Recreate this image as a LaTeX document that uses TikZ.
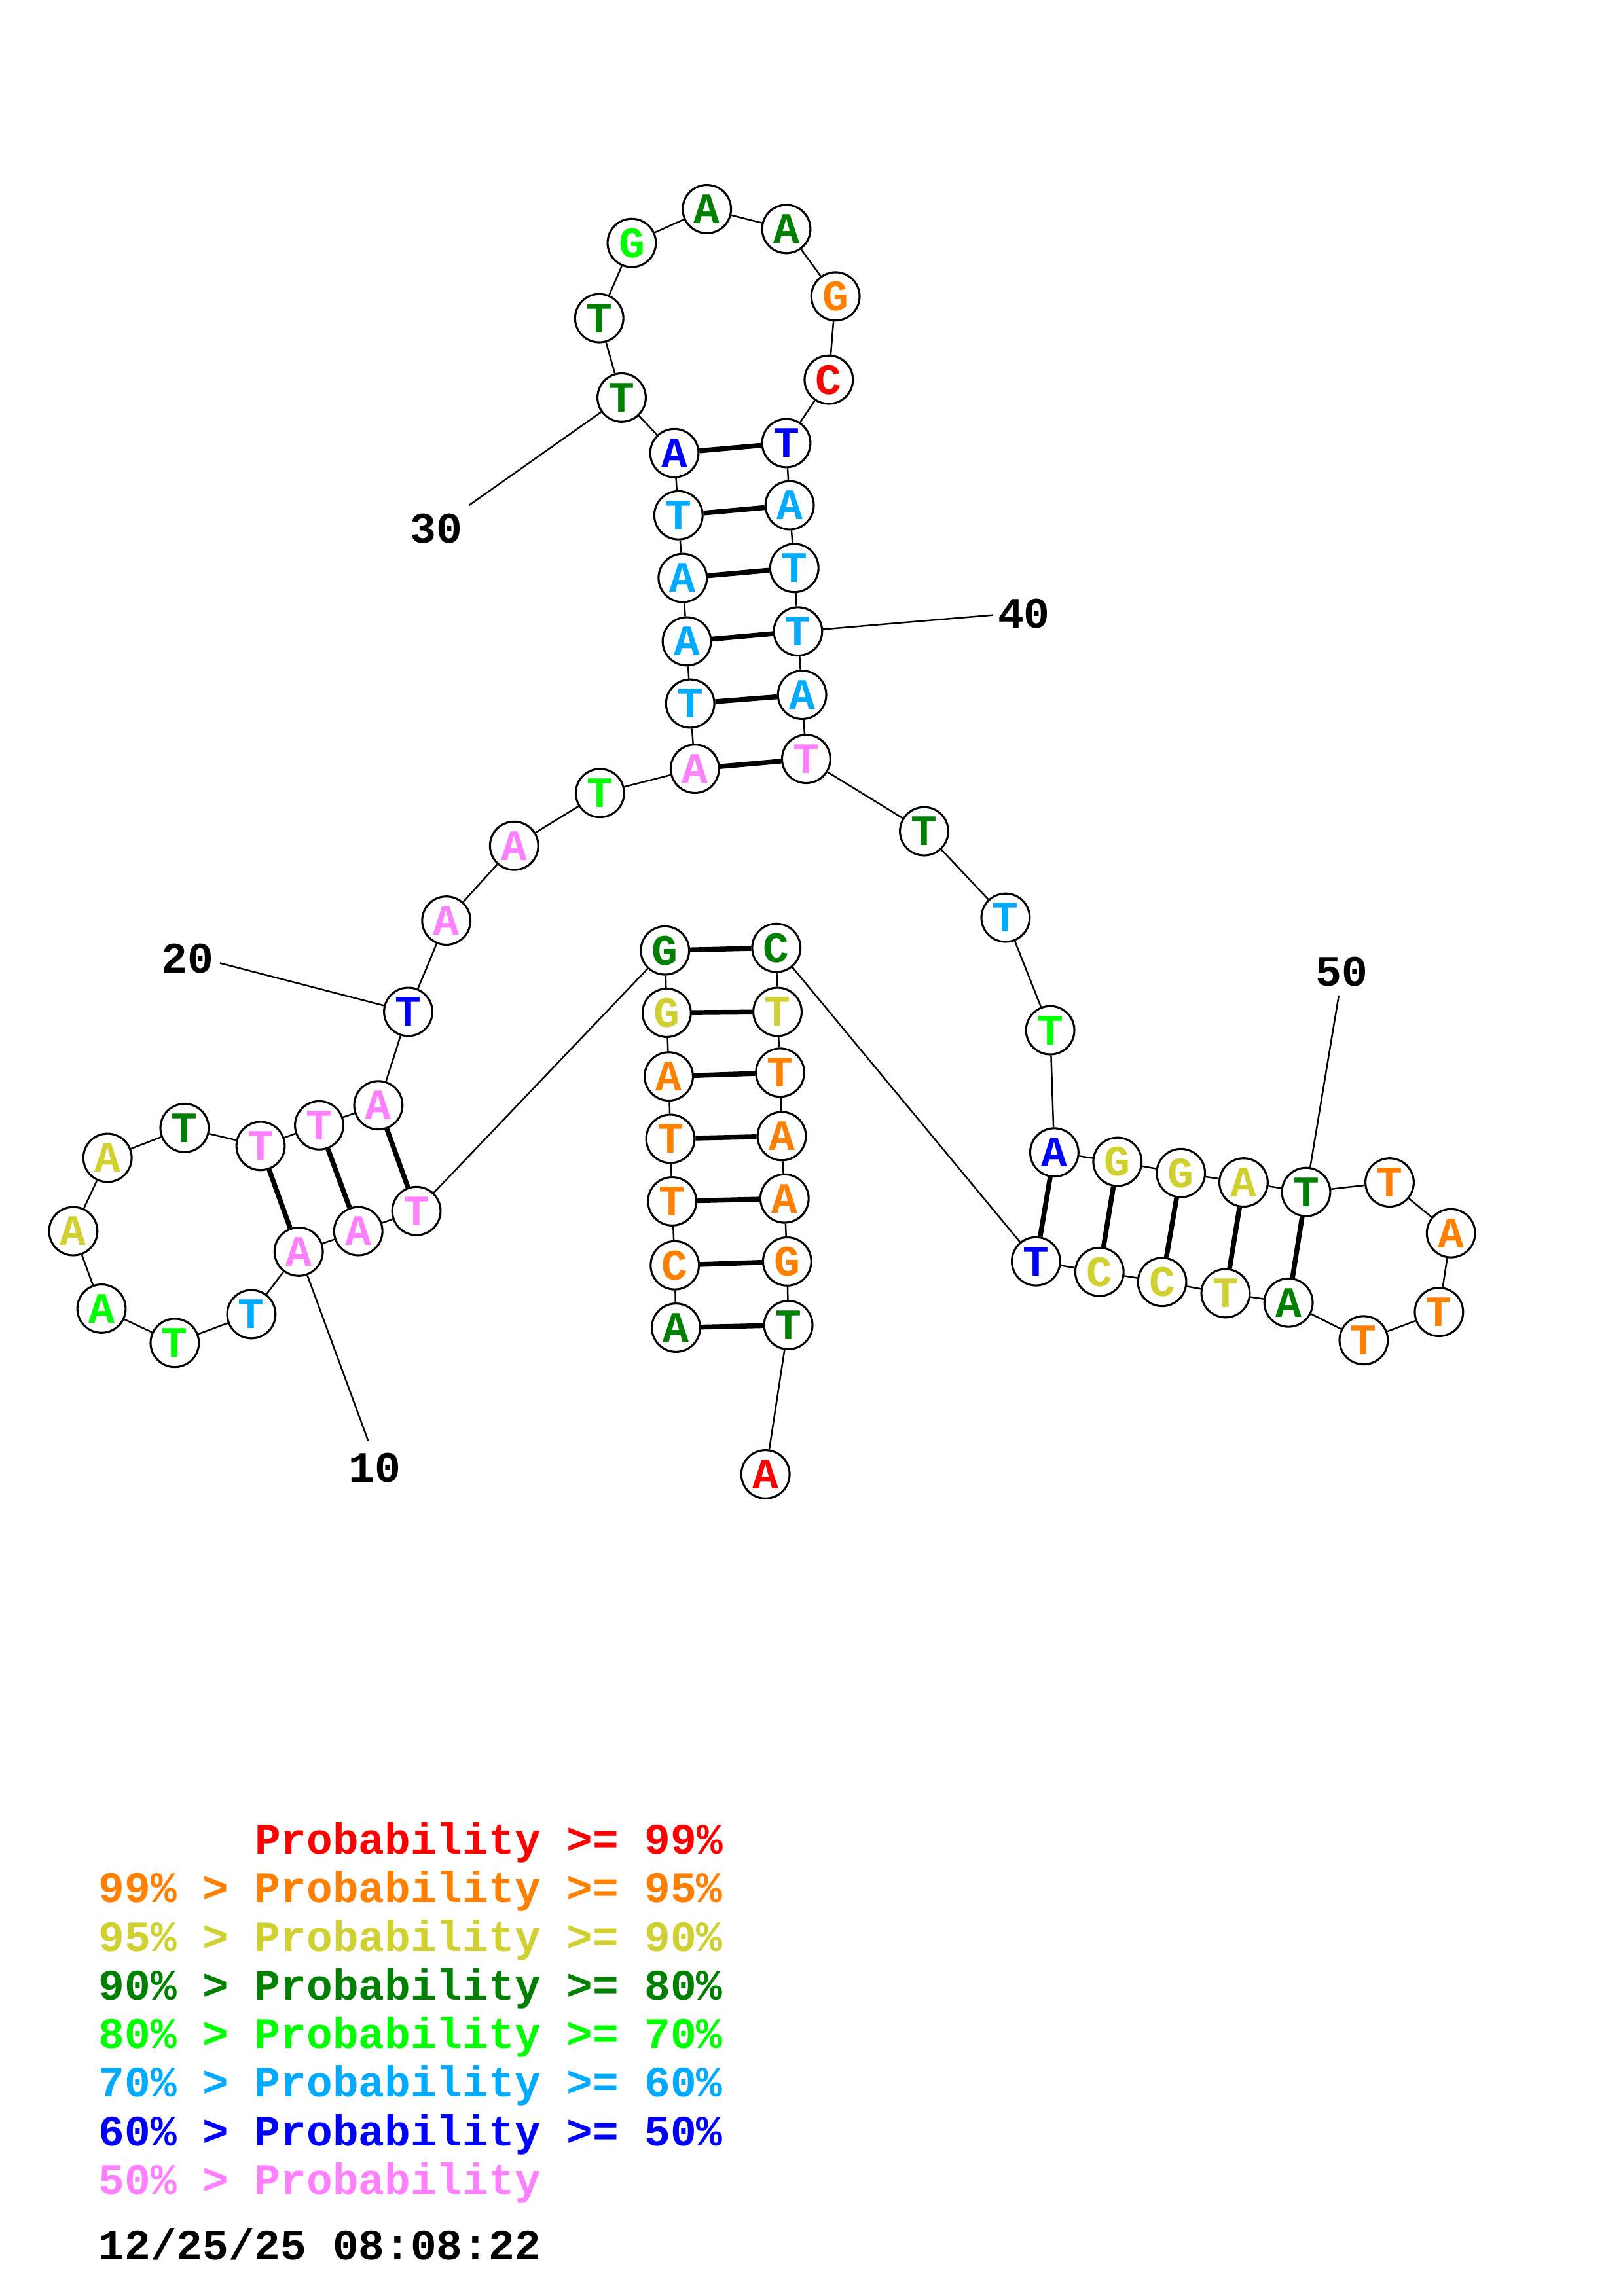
\documentclass[tikz,border=0pt]{standalone}
\usepackage{fontspec}
\setmonofont{Liberation Mono}
\definecolor{pa}{RGB}{255,0,0}
\definecolor{pb}{RGB}{255,128,0}
\definecolor{pc}{RGB}{208,208,48}
\definecolor{pd}{RGB}{0,128,0}
\definecolor{pe}{RGB}{0,255,0}
\definecolor{pf}{RGB}{0,170,255}
\definecolor{pg}{RGB}{0,0,255}
\definecolor{ph}{RGB}{255,128,255}
\newcommand{\basefont}{\ttfamily\bfseries\fontsize{16}{18}\selectfont}
\newcommand{\legfont}{\ttfamily\bfseries\fontsize{15.95}{18}\selectfont}
\begin{document}
\begin{tikzpicture}[x=0.018953cm,y=-0.018953cm,
      nt/.style={circle,draw,line width=0.75pt,minimum size=6.25mm,
        inner sep=0pt,fill=white,text=#1,font=\basefont},
      bb/.style={line width=0.6pt},
      bp/.style={line width=1.8pt},
      num/.style={font=\basefont,inner sep=0pt},
      leg/.style={font=\legfont,inner sep=0pt,anchor=base west}]
      \useasboundingbox (0,0) rectangle (1108,1568);
      \node[nt=pd] (n1) at (461.5,906.7) {A};
      \node[nt=pb] (n2) at (460.7,864.1) {C};
      \node[nt=pb] (n3) at (458.9,820.4) {T};
      \node[nt=pb] (n4) at (457.7,777.7) {T};
      \node[nt=pb] (n5) at (456.6,735.1) {A};
      \node[nt=pc] (n6) at (455.2,691.7) {G};
      \node[nt=pd] (n7) at (454,649.1) {G};
      \node[nt=ph] (n8) at (284.3,827) {T};
      \node[nt=ph] (n9) at (244.6,840.8) {A};
      \node[nt=ph] (n10) at (203.9,854.8) {A};
      \node[nt=pf] (n11) at (171.6,897.5) {T};
      \node[nt=pe] (n12) at (119.3,917.1) {T};
      \node[nt=pe] (n13) at (69.3,893.7) {A};
      \node[nt=pc] (n14) at (50,840.8) {A};
      \node[nt=pc] (n15) at (73.4,790.7) {A};
      \node[nt=pd] (n16) at (126,770.3) {T};
      \node[nt=ph] (n17) at (177.9,782.6) {T};
      \node[nt=ph] (n18) at (217.9,768.5) {T};
      \node[nt=ph] (n19) at (258.3,754.8) {A};
      \node[nt=pg] (n20) at (278.7,691) {T};
      \node[nt=ph] (n21) at (304.7,628.7) {A};
      \node[nt=ph] (n22) at (351,577.6) {A};
      \node[nt=pe] (n23) at (409.6,541.6) {T};
      \node[nt=ph] (n24) at (474.4,525) {A};
      \node[nt=pf] (n25) at (471.2,480.5) {T};
      \node[nt=pf] (n26) at (468.9,438) {A};
      \node[nt=pf] (n27) at (466.1,394.7) {A};
      \node[nt=pf] (n28) at (463.2,351.9) {T};
      \node[nt=pg] (n29) at (460.4,309.4) {A};
      \node[nt=pd] (n30) at (424.4,271.5) {T};
      \node[nt=pd] (n31) at (409.1,217.3) {T};
      \node[nt=pe] (n32) at (431.3,165.9) {G};
      \node[nt=pd] (n33) at (482.6,142.8) {A};
      \node[nt=pd] (n34) at (536.8,156.4) {A};
      \node[nt=pb] (n35) at (570.4,202.4) {G};
      \node[nt=pa] (n36) at (565.8,259.3) {C};
      \node[nt=pg] (n37) at (536.8,302.6) {T};
      \node[nt=pf] (n38) at (539.1,345.1) {A};
      \node[nt=pf] (n39) at (542.3,387.9) {T};
      \node[nt=pf] (n40) at (544.8,431.2) {T};
      \node[nt=pf] (n41) at (547.6,474.5) {A};
      \node[nt=ph] (n42) at (550.4,518.3) {T};
      \node[nt=pd] (n43) at (630.9,567.7) {T};
      \node[nt=pf] (n44) at (686.5,626.7) {T};
      \node[nt=pe] (n45) at (717,703.6) {T};
      \node[nt=pg] (n46) at (719.8,787) {A};
      \node[nt=pc] (n47) at (762.9,793.4) {G};
      \node[nt=pc] (n48) at (806.2,801.1) {G};
      \node[nt=pc] (n49) at (849,807.5) {A};
      \node[nt=pd] (n50) at (891.7,814) {T};
      \node[nt=pb] (n51) at (948.7,807.5) {T};
      \node[nt=pb] (n52) at (990.6,842.2) {A};
      \node[nt=pb] (n53) at (982.4,896) {T};
      \node[nt=pb] (n54) at (931,915.3) {T};
      \node[nt=pd] (n55) at (879.7,889.6) {A};
      \node[nt=pc] (n56) at (836.7,883.2) {T};
      \node[nt=pc] (n57) at (793.4,875.5) {C};
      \node[nt=pc] (n58) at (750.6,868.6) {C};
      \node[nt=pg] (n59) at (707.3,861.4) {T};
      \node[nt=pd] (n60) at (530,647.3) {C};
      \node[nt=pc] (n61) at (530.8,691) {T};
      \node[nt=pb] (n62) at (532.6,732.5) {T};
      \node[nt=pb] (n63) at (533.7,775.9) {A};
      \node[nt=pb] (n64) at (535.6,818.5) {A};
      \node[nt=pb] (n65) at (537.4,861.5) {G};
      \node[nt=pd] (n66) at (538.2,904.9) {T};
      \node[nt=pa] (n67) at (522.6,1006.8) {A};
      \foreach \i [count=\j from 2] in {1,...,66}
        \draw[bb] (n\i) -- (n\j);
      \foreach \a/\b in {1/66,2/65,3/64,4/63,5/62,6/61,7/60,8/19,9/18,10/17,
          24/42,25/41,26/40,27/39,28/38,29/37,46/59,47/58,48/57,49/56,50/55}
        \draw[bp] (n\a) -- (n\b);
      \node[num] (t10) at (255.7,1002.4) {10};
      \node[num] (t20) at (127.9,654.7) {20};
      \node[num] (t30) at (297.8,360.8) {30};
      \node[num] (t40) at (699,419) {40};
      \node[num] (t50) at (916,663.4) {50};
      \coordinate (e10) at (251.3,983.8);
      \coordinate (e20) at (150.1,657.7);
      \coordinate (e30) at (320.2,345.1);
      \coordinate (e40) at (678,420);
      \coordinate (e50) at (914,679.8);
      \draw[bb] (n10) -- (e10);
      \draw[bb] (n20) -- (e20);
      \draw[bb] (n30) -- (e30);
      \draw[bb] (n40) -- (e40);
      \draw[bb] (n50) -- (e50);
      \node[leg,text=pa] (l1) at (67,1266.1) {\phantom{99\% > }Probability >= 99\%};
      \node[leg,text=pb] (l2) at (67,1299.3) {99\% > Probability >= 95\%};
      \node[leg,text=pc] (l3) at (67,1332.5) {95\% > Probability >= 90\%};
      \node[leg,text=pd] (l4) at (67,1365.7) {90\% > Probability >= 80\%};
      \node[leg,text=pe] (l5) at (67,1398.9) {80\% > Probability >= 70\%};
      \node[leg,text=pf] (l6) at (67,1432.1) {70\% > Probability >= 60\%};
      \node[leg,text=pg] (l7) at (67,1465.3) {60\% > Probability >= 50\%};
      \node[leg,text=ph] (l8) at (67,1498.5) {50\% > Probability};
      \node[leg] (dt) at (67,1543.1) {12/25/25 08:08:22};
\end{tikzpicture}
\end{document}
